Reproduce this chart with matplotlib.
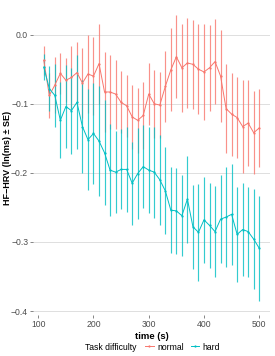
import numpy as np
import matplotlib
matplotlib.use("Agg")
import matplotlib.pyplot as plt
from matplotlib.lines import Line2D
from matplotlib.offsetbox import HPacker

plt.rcParams['font.family'] = ['Liberation Sans', 'DejaVu Sans']

time_s = list(range(110, 501, 10))

normal_mean = [-0.037, -0.088, -0.073, -0.056, -0.066, -0.062, -0.055, -0.070, -0.057, -0.060,
               -0.042, -0.083, -0.083, -0.086, -0.098, -0.103, -0.119, -0.124, -0.117, -0.086,
               -0.100, -0.102, -0.075, -0.051, -0.032, -0.048, -0.041, -0.043, -0.050, -0.054,
               -0.048, -0.039, -0.060, -0.107, -0.115, -0.120, -0.133, -0.128, -0.142, -0.135]
normal_se = [0.021, 0.032, 0.040, 0.030, 0.032, 0.046, 0.045, 0.050, 0.056, 0.056,
             0.058, 0.058, 0.053, 0.050, 0.045, 0.045, 0.046, 0.047, 0.048, 0.045,
             0.049, 0.048, 0.051, 0.060, 0.060, 0.064, 0.065, 0.064, 0.065, 0.070,
             0.062, 0.061, 0.067, 0.064, 0.060, 0.058, 0.067, 0.062, 0.060, 0.057]

hard_mean = [-0.047, -0.078, -0.088, -0.124, -0.104, -0.110, -0.098, -0.133, -0.152, -0.143,
             -0.154, -0.171, -0.196, -0.199, -0.195, -0.195, -0.215, -0.201, -0.191, -0.196,
             -0.199, -0.210, -0.226, -0.254, -0.255, -0.262, -0.238, -0.278, -0.286, -0.268,
             -0.276, -0.285, -0.267, -0.264, -0.260, -0.289, -0.282, -0.285, -0.296, -0.309]
hard_se = [0.019, 0.032, 0.045, 0.055, 0.060, 0.062, 0.068, 0.067, 0.073, 0.073,
           0.080, 0.076, 0.067, 0.059, 0.058, 0.062, 0.060, 0.066, 0.060, 0.062,
           0.066, 0.065, 0.063, 0.062, 0.062, 0.059, 0.063, 0.061, 0.070, 0.062,
           0.061, 0.066, 0.064, 0.072, 0.073, 0.069, 0.067, 0.065, 0.072, 0.076]

groups = ["normal", "hard"]
colors = {"normal": "#F8766D", "hard": "#00BFC4"}
x_ticks = [100, 200, 300, 400, 500]
y_ticks = [0.0, -0.1, -0.2, -0.3, -0.4]

W, H = 275, 356
fig = plt.figure(figsize=(W / 100, H / 100), dpi=100)
fig.patch.set_facecolor("white")
ax = fig.add_axes([33 / W, (H - 315) / H, (270 - 33) / W, (315 - 1) / H])

t = np.array(time_s)
data = {"normal": (np.array(normal_mean), np.array(normal_se)),
        "hard": (np.array(hard_mean), np.array(hard_se))}

for g in groups:
    m, se = data[g]
    ax.vlines(t, m - se, m + se, colors=colors[g], linewidth=0.85, alpha=0.8, zorder=2)
for g in groups:
    m, se = data[g]
    ax.plot(t, m, color=colors[g], linewidth=0.7, zorder=3)
    ax.plot(t, m, 'o', color=colors[g], markersize=1.6, markeredgewidth=0, zorder=4)

lo = min((data[g][0] - data[g][1]).min() for g in groups)
hi = max((data[g][0] + data[g][1]).max() for g in groups)
r = hi - lo
ax.set_ylim(lo - 0.05 * r, hi + 0.05 * r)
xr = t.max() - t.min()
ax.set_xlim(t.min() - 0.05 * xr, t.max() + 0.05 * xr)

ax.set_xticks(x_ticks)
ax.set_yticks(y_ticks)
ax.set_yticklabels([f"{v:.1f}".replace("-", "\u2212") for v in y_ticks])
ax.grid(axis='y', color='#DEDEDE', linewidth=0.7)
ax.grid(axis='x', visible=False)
ax.set_axisbelow(True)
for s in ax.spines.values():
    s.set_visible(False)
ax.tick_params(axis='both', length=2, width=0.5, color='#555555', labelsize=6.2,
               labelcolor='#4D4D4D', pad=1.5)

ax.set_xlabel("time (s)", fontsize=6.8, fontweight='bold', labelpad=2)
fig.text(8 / W, (H - 158) / H, "HF\u2212HRV (ln(ms) \u00b1 SE)", rotation=90,
         fontsize=6.5, fontweight='bold', ha='center', va='center')

handles = [Line2D([0], [0], color=colors[g], linewidth=0.7, marker='o', markersize=1.6,
                  markeredgewidth=0) for g in groups]
leg = fig.legend(handles, groups, title="Task difficulty", loc='center',
                 bbox_to_anchor=(0.555, (H - 347) / H), ncol=2, frameon=False,
                 fontsize=6.2, title_fontsize=6.2, handlelength=1.0, handletextpad=0.4,
                 columnspacing=0.8, borderpad=0)
title_box = leg._legend_title_box
handle_box = leg._legend_handle_box
leg._legend_box._children = [HPacker(pad=0, sep=6, children=[title_box, handle_box], align="center")]

fig.savefig("out.png", dpi=100, facecolor="white")
